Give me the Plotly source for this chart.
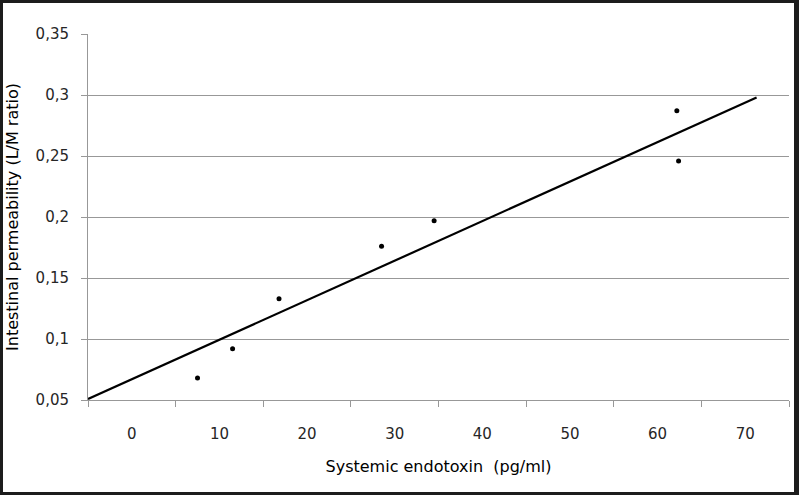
import plotly.graph_objects as go

# Data
endotoxin = [7.5, 11.5, 16.8, 28.5, 34.5, 62.2, 62.4]
permeability = [0.068, 0.092, 0.133, 0.176, 0.197, 0.287, 0.246]
trend_x = [-5, 71.3]
trend_y = [0.0508, 0.298]

x_tickvals = [0, 10, 20, 30, 40, 50, 60, 70]
x_ticktext = ["0", "10", "20", "30", "40", "50", "60", "70"]
y_tickvals = [0.05, 0.1, 0.15, 0.2, 0.25, 0.3, 0.35]
y_ticktext = ["0,05", "0,1", "0,15", "0,2", "0,25", "0,3", "0,35"]

W, H = 799, 495
L, R, T, B = 88, 10, 34, 95
pw, ph = W - L - R, H - T - B

def px(xp):
    return (xp - L) / pw

def py(yp):
    return (H - B - yp) / ph

fig = go.Figure()
fig.add_trace(go.Scatter(x=trend_x, y=trend_y, mode="lines",
                         line=dict(color="black", width=2.2), showlegend=False))
fig.add_trace(go.Scatter(x=endotoxin, y=permeability, mode="markers",
                         marker=dict(color="black", size=5), showlegend=False))

grey = "#989898"
tickfont = dict(family="DejaVu Sans", size=15, color="#262626")
titlefont = dict(family="DejaVu Sans", size=16, color="#000000")

fig.update_xaxes(range=[-5, 75], tickvals=x_tickvals, ticktext=x_ticktext,
                 ticks="", showgrid=False, zeroline=False, automargin=False,
                 showline=True, linecolor=grey, linewidth=1,
                 tickfont=tickfont, ticklabelstandoff=20,
                 minor=dict(tick0=-5, dtick=10, ticks="outside", ticklen=6,
                            tickcolor=grey, tickwidth=1, showgrid=False),
                 title=dict(text="Systemic endotoxin  (pg/ml)", font=titlefont, standoff=18))
fig.update_yaxes(range=[0.05, 0.35], tickvals=y_tickvals, ticktext=y_ticktext,
                 ticks="outside", ticklen=6, tickcolor=grey, tickwidth=1,
                 showgrid=True, gridcolor=grey, gridwidth=1, zeroline=False,
                 showline=True, linecolor=grey, linewidth=1, automargin=False,
                 tickfont=tickfont, ticklabelstandoff=9,
                 title=dict(text="Intestinal permeability (L/M ratio)", font=titlefont, standoff=12))

border = "#1c1c1c"
shapes = [
    dict(type="rect", xref="paper", yref="paper", x0=px(0), x1=px(3), y0=py(H), y1=py(0),
         fillcolor=border, line=dict(width=0)),
    dict(type="rect", xref="paper", yref="paper", x0=px(W - 5), x1=px(W), y0=py(H), y1=py(0),
         fillcolor=border, line=dict(width=0)),
    dict(type="rect", xref="paper", yref="paper", x0=px(0), x1=px(W), y0=py(3), y1=py(0),
         fillcolor=border, line=dict(width=0)),
    dict(type="rect", xref="paper", yref="paper", x0=px(0), x1=px(W), y0=py(H), y1=py(H - 3),
         fillcolor=border, line=dict(width=0)),
]

fig.update_layout(width=W, height=H, margin=dict(l=L, r=R, t=T, b=B, autoexpand=False),
                  plot_bgcolor="white", paper_bgcolor="white",
                  shapes=shapes, showlegend=False)

fig.write_html("out.html", config={"displayModeBar": False},
               post_script="document.body.style.margin='0';document.body.style.overflow='hidden';")
